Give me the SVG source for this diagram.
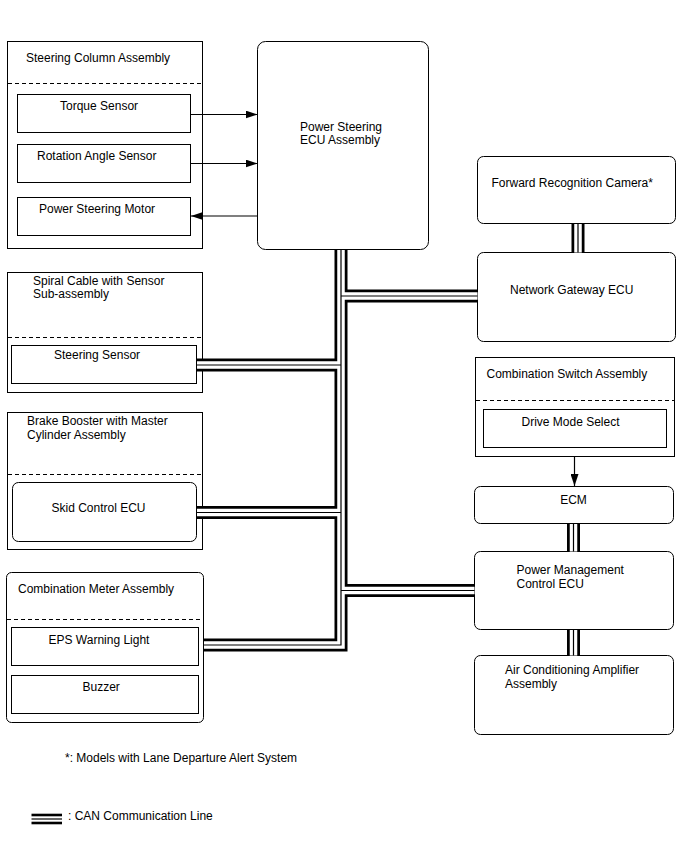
<svg xmlns="http://www.w3.org/2000/svg" width="688" height="852" viewBox="0 0 688 852">
<defs>
<style>
text{font-family:"Liberation Sans",Arial,sans-serif;font-size:12px;fill:#000}
.b{fill:#fff;stroke:#000;stroke-width:1}
.d{stroke:#000;stroke-width:1;stroke-dasharray:4 3;fill:none}
.c1{fill:none;stroke:#000;stroke-width:13;stroke-linejoin:miter}
.c2{fill:none;stroke:#fff;stroke-width:7.5;stroke-linejoin:miter}
.c3{fill:none;stroke:#000;stroke-width:1.2;stroke-linejoin:miter}
.a{stroke:#000;stroke-width:1.2;fill:none;marker-end:url(#ah)}
</style>
<marker id="ah" viewBox="0 0 12 8" refX="12" refY="4" markerWidth="12" markerHeight="8" markerUnits="userSpaceOnUse" orient="auto">
<path d="M0,0 L12,4 L0,8 Z" fill="#000"/>
</marker>
</defs>
<rect width="688" height="852" fill="#fff"/>

<g id="steering-column">
<rect class="b" x="7.5" y="41.5" width="195" height="207"/>
<line class="d" x1="8" y1="83.5" x2="202" y2="83.5"/>
<text x="26" y="62">Steering Column Assembly</text>
<g id="torque-sensor"><rect class="b" x="17.5" y="94.5" width="173" height="38"/><text x="60" y="110">Torque Sensor</text></g>
<g id="rotation-angle-sensor"><rect class="b" x="17.5" y="144.5" width="173" height="38"/><text x="37" y="160">Rotation Angle Sensor</text></g>
<g id="power-steering-motor"><rect class="b" x="17.5" y="197.5" width="173" height="38"/><text x="39" y="213">Power Steering Motor</text></g>
</g>

<g id="power-steering-ecu">
<rect class="b" x="257.5" y="41.5" width="171" height="208" rx="8"/>
<text x="300" y="131">Power Steering</text>
<text x="300" y="144">ECU Assembly</text>
</g>

<g id="forward-recognition-camera">
<rect class="b" x="477.5" y="156.5" width="198" height="67" rx="6"/>
<text x="491.5" y="187">Forward Recognition Camera*</text>
</g>

<g id="network-gateway-ecu">
<rect class="b" x="477.5" y="252.5" width="198" height="89" rx="6"/>
<text x="510" y="293.5">Network Gateway ECU</text>
</g>

<g id="combination-switch">
<rect class="b" x="475.5" y="357.5" width="199" height="99"/>
<line class="d" x1="476" y1="400.5" x2="674" y2="400.5"/>
<text x="486.5" y="377.5">Combination Switch Assembly</text>
<g id="drive-mode-select"><rect class="b" x="483.5" y="409.5" width="183" height="38"/><text x="521.5" y="425.5">Drive Mode Select</text></g>
</g>

<g id="ecm">
<rect class="b" x="474.5" y="486.5" width="199" height="37" rx="6"/>
<text x="573.5" y="503.5" text-anchor="middle">ECM</text>
</g>

<g id="power-management-ecu">
<rect class="b" x="474.5" y="551.5" width="199" height="78" rx="6"/>
<text x="516.5" y="573.5">Power Management</text>
<text x="516.5" y="587.5">Control ECU</text>
</g>

<g id="air-conditioning-amplifier">
<rect class="b" x="474.5" y="655.5" width="199" height="79" rx="6"/>
<text x="505" y="674">Air Conditioning Amplifier</text>
<text x="505" y="688">Assembly</text>
</g>

<g id="spiral-cable">
<rect class="b" x="7.5" y="272.5" width="195" height="120"/>
<line class="d" x1="8" y1="337.5" x2="202" y2="337.5"/>
<text x="33" y="285">Spiral Cable with Sensor</text>
<text x="33" y="298">Sub-assembly</text>
<g id="steering-sensor"><rect class="b" x="11.5" y="345.5" width="185" height="38"/><text x="54" y="358.5">Steering Sensor</text></g>
</g>

<g id="brake-booster">
<rect class="b" x="7.5" y="412.5" width="195" height="137"/>
<line class="d" x1="8" y1="474.5" x2="202" y2="474.5"/>
<text x="27" y="425">Brake Booster with Master</text>
<text x="27" y="438.5">Cylinder Assembly</text>
<g id="skid-control-ecu"><rect class="b" x="12.5" y="482.5" width="184" height="59" rx="6"/><text x="51.5" y="511.5">Skid Control ECU</text></g>
</g>

<g id="combination-meter">
<rect class="b" x="6.5" y="572.5" width="197" height="150" rx="5"/>
<line class="d" x1="7" y1="619.5" x2="203" y2="619.5"/>
<text x="18" y="592.5">Combination Meter Assembly</text>
<g id="eps-warning-light"><rect class="b" x="11.5" y="627.5" width="187" height="38"/><text x="48.5" y="643.5">EPS Warning Light</text></g>
<g id="buzzer"><rect class="b" x="11.5" y="675.5" width="187" height="38"/><text x="82.5" y="691">Buzzer</text></g>
</g>

<g id="connectors">
<line class="a" x1="191" y1="114.5" x2="257.5" y2="114.5"/>
<line class="a" x1="191" y1="163.5" x2="257.5" y2="163.5"/>
<line class="a" x1="257.5" y1="216" x2="191" y2="216"/>
<line class="a" x1="574.5" y1="457" x2="574.5" y2="486"/>
<g id="can-bus">
<path class="c1" d="M341,250 V645 H204 M341,296 H477.5 M341,365 H197 M341,512.5 H197 M341,590.5 H474.5 M578,224 V252.5 M573.5,524 V551.5 M573.5,630 V655.5"/>
<path class="c2" d="M341,250 V645 H204 M341,296 H477.5 M341,365 H197 M341,512.5 H197 M341,590.5 H474.5 M578,224 V252.5 M573.5,524 V551.5 M573.5,630 V655.5"/>
<path class="c3" d="M341,250 V645 H204 M341,296 H477.5 M341,365 H197 M341,512.5 H197 M341,590.5 H474.5 M578,224 V252.5 M573.5,524 V551.5 M573.5,630 V655.5"/>
</g>
</g>

<g id="notes">
<text x="65" y="762">*: Models with Lane Departure Alert System</text>
<line x1="31.5" y1="815" x2="62" y2="815" stroke="#000" stroke-width="2.6"/>
<line x1="31.5" y1="819" x2="62" y2="819" stroke="#000" stroke-width="1.2"/>
<line x1="31.5" y1="823" x2="62" y2="823" stroke="#000" stroke-width="2.6"/>
<text x="68" y="820">: CAN Communication Line</text>
</g>
</svg>
